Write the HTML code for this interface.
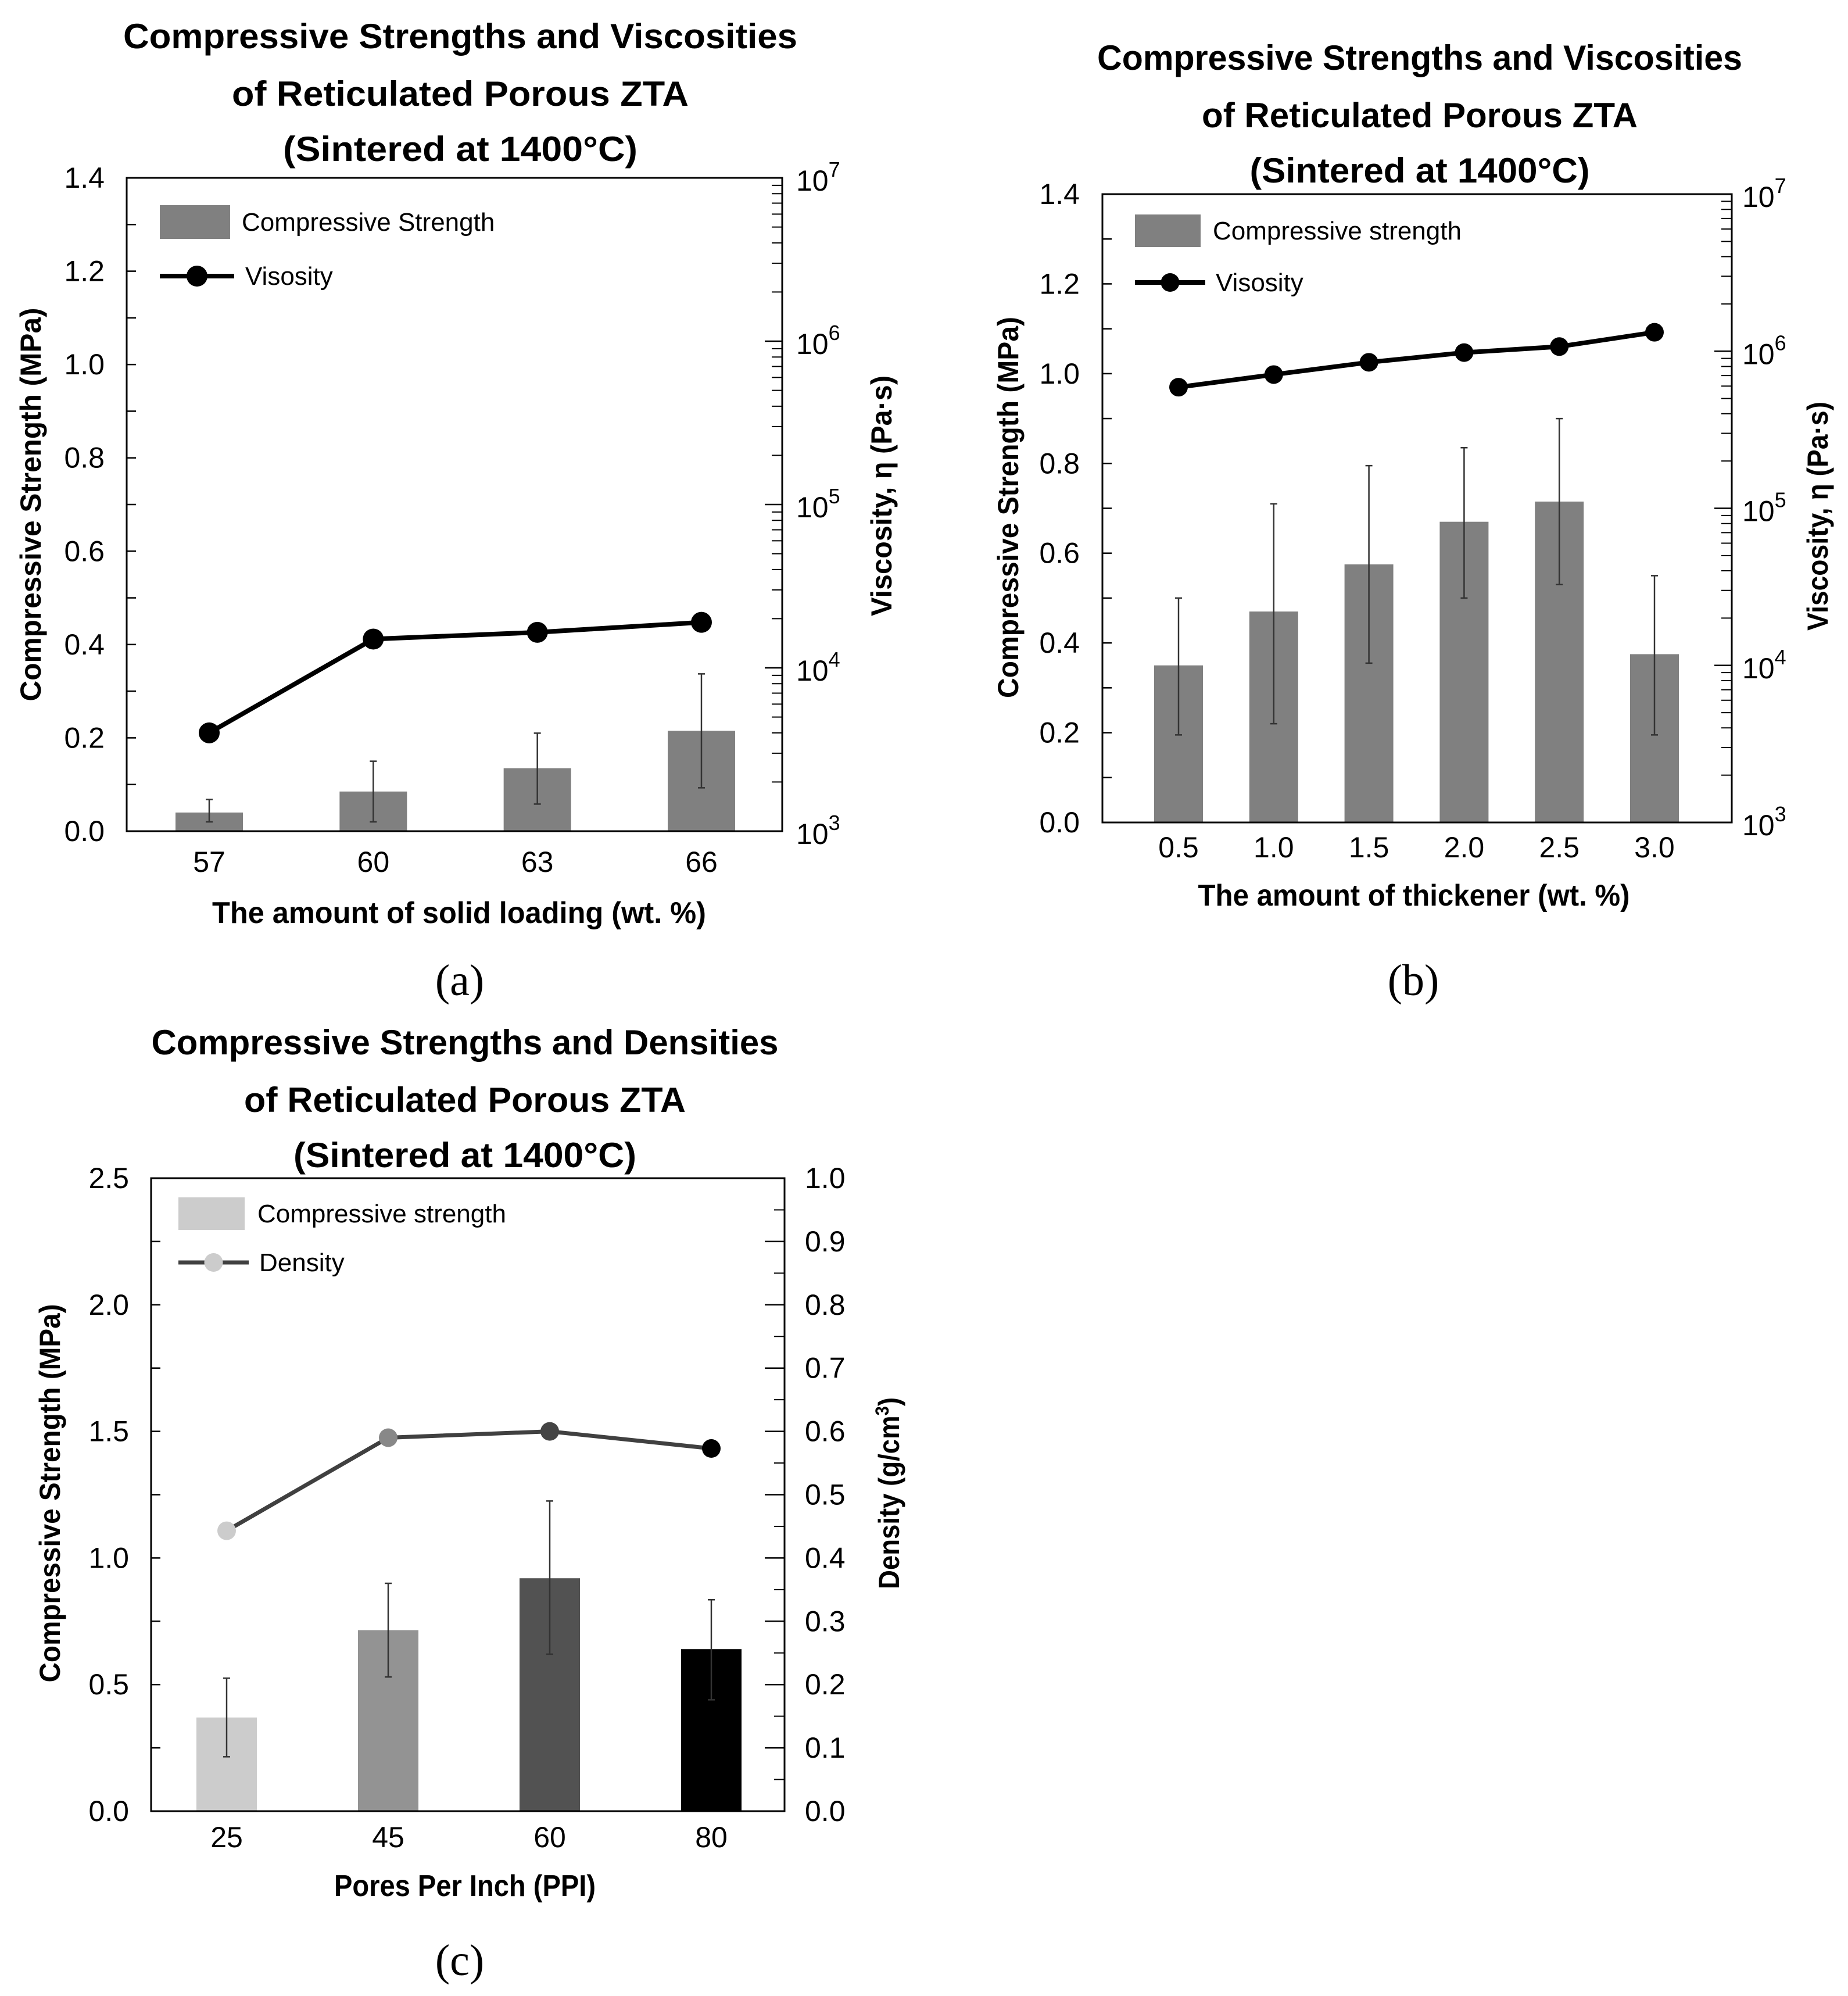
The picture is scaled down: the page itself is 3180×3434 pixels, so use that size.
<!DOCTYPE html>
<html><head><meta charset="utf-8"><style>
html,body{margin:0;padding:0;background:#fff}
svg{display:block}
text{font-family:"Liberation Sans",sans-serif}
text.serif{font-family:"Liberation Serif",serif}
</style></head><body>
<svg id="fig" width="3180" height="3434" viewBox="0 0 3180 3434" xmlns="http://www.w3.org/2000/svg">
<rect width="3180" height="3434" fill="#fff"/>
<g id="pa"></g>
<g id="pb"></g>
<g id="pc"></g>
</svg>
<script>
// Panel (a) data
const aCats = ["57","60","63","66"];
const aStrength = [0.04, 0.085, 0.135, 0.215];
const aErrLow = [0.02, 0.02, 0.058, 0.093];
const aErrHigh = [0.068, 0.15, 0.21, 0.337];
const aViscosity = [4000, 15000, 16500, 19000];
const aLeftTicks = ["0.0","0.2","0.4","0.6","0.8","1.0","1.2","1.4"];
// Panel (b) data
const bCats = ["0.5","1.0","1.5","2.0","2.5","3.0"];
const bStrength = [0.35, 0.47, 0.575, 0.67, 0.715, 0.375];
const bErrLow = [0.195, 0.22, 0.355, 0.5, 0.53, 0.195];
const bErrHigh = [0.5, 0.71, 0.795, 0.835, 0.9, 0.55];
const bViscosity = [590000, 710000, 850000, 980000, 1070000, 1320000];
const bLeftTicks = ["0.0","0.2","0.4","0.6","0.8","1.0","1.2","1.4"];
// Panel (c) data
const cCats = ["25","45","60","80"];
const cStrength = [0.37, 0.715, 0.92, 0.64];
const cErrLow = [0.215, 0.53, 0.62, 0.44];
const cErrHigh = [0.525, 0.9, 1.225, 0.835];
const cDensity = [0.443, 0.59, 0.6, 0.573];
const cLeftTicks = ["0.0","0.5","1.0","1.5","2.0","2.5"];
const cRightTicks = ["0.0","0.1","0.2","0.3","0.4","0.5","0.6","0.7","0.8","0.9","1.0"];
const logExps = [3,4,5,6,7];

const NS="http://www.w3.org/2000/svg";
function mk(parent,tag,attrs,txt){const e=document.createElementNS(NS,tag);for(const k in attrs)e.setAttribute(k,attrs[k]);if(txt!==undefined)e.textContent=txt;parent.appendChild(e);return e;}

function panel(g,cfg){
  const L=cfg.L,R=cfg.R,T=cfg.T,B=cfg.B;
  const yL=v=>B-(v-cfg.lmin)/(cfg.lmax-cfg.lmin)*(B-T);
  const yR=cfg.log?(v=>B-(Math.log10(v)-cfg.rmin)/(cfg.rmax-cfg.rmin)*(B-T)):(v=>B-(v-cfg.rmin)/(cfg.rmax-cfg.rmin)*(B-T));
  const n=cfg.cats.length;
  const xC=i=>cfg.x0+i*(cfg.x1-cfg.x0)/(n-1);
  cfg.titles.forEach((t,i)=>{
    const e=mk(g,'text',{x:cfg.tx,y:cfg.ty[i],'text-anchor':'middle','font-size':60,'font-weight':'bold',textLength:cfg.tw[i],lengthAdjust:'spacingAndGlyphs'},t);
    
    
  });
  cfg.vals.forEach((v,i)=>{
    const r=mk(g,'rect',{x:xC(i)-cfg.bw/2,y:yL(v),width:cfg.bw,height:B-yL(v),fill:cfg.colors[i]});
    
    
    const eb=mk(g,'path',{d:`M${xC(i)},${yL(cfg.lo[i])}V${yL(cfg.hi[i])}M${xC(i)-6},${yL(cfg.lo[i])}H${xC(i)+6}M${xC(i)-6},${yL(cfg.hi[i])}H${xC(i)+6}`,stroke:'#333','stroke-width':2.5,fill:'none'});
    
    
  });
  const pts=cfg.line.map((v,i)=>[xC(i),yR(v)]);
  const pl=mk(g,'polyline',{points:pts.map(p=>p.join(',')).join(' '),fill:'none',stroke:cfg.lineColor,'stroke-width':cfg.lw});
  
  
  pts.forEach((p,i)=>{
    const c=mk(g,'circle',{cx:p[0],cy:p[1],r:cfg.mr,fill:cfg.mcolors[i]});
    
    
  });
  const fr=mk(g,'rect',{x:L,y:T,width:R-L,height:B-T,fill:'none',stroke:'#000','stroke-width':3});
  
  
  cfg.lticks.forEach((t,i)=>{
    const v=parseFloat(t),y=yL(v);
    mk(g,'line',{x1:L,x2:L+16,y1:y,y2:y,stroke:'#000','stroke-width':2.5});
    if(i<cfg.lticks.length-1){const ym=yL(v+cfg.lstep/2);mk(g,'line',{x1:L,x2:L+16,y1:ym,y2:ym,stroke:'#000','stroke-width':2.5});}
    const e=mk(g,'text',{x:cfg.llx,y:y+17,'text-anchor':'end','font-size':50},t);
    
    
  });
  if(cfg.log){
    logExps.forEach((ex,i)=>{
      const y=yR(Math.pow(10,ex));
      mk(g,'line',{x1:R-30,x2:R,y1:y,y2:y,stroke:'#000','stroke-width':2.5});
      const e=mk(g,'text',{x:cfg.rlx,y:y+22,'font-size':50},'10');
      mk(e,'tspan',{dy:-24,'font-size':36},String(ex));
      
      
      if(i<logExps.length-1){for(let k=2;k<10;k++){const ym=yR(k*Math.pow(10,ex));mk(g,'line',{x1:R-18,x2:R,y1:ym,y2:ym,stroke:'#000','stroke-width':2});}}
    });
  } else {
    cfg.rticks.forEach((t,i)=>{
      const v=parseFloat(t),y=yR(v);
      mk(g,'line',{x1:R-34,x2:R,y1:y,y2:y,stroke:'#000','stroke-width':2.5});
      if(i<cfg.rticks.length-1){const ym=yR(v+0.05);mk(g,'line',{x1:R-18,x2:R,y1:ym,y2:ym,stroke:'#000','stroke-width':2});}
      const e=mk(g,'text',{x:cfg.rlx,y:y+17,'font-size':50},t);
      
      
    });
  }
  cfg.cats.forEach((c,i)=>{
    const e=mk(g,'text',{x:xC(i),y:cfg.xly,'text-anchor':'middle','font-size':50},c);
    
    
  });
  let e=mk(g,'text',{x:cfg.xtx,y:cfg.xty,'text-anchor':'middle','font-size':52,'font-weight':'bold',textLength:cfg.xtw,lengthAdjust:'spacingAndGlyphs'},cfg.xtitle);
  
  
  e=mk(g,'text',{x:0,y:0,'text-anchor':'middle','font-size':50,'font-weight':'bold',textLength:cfg.ltw,lengthAdjust:'spacingAndGlyphs',transform:`translate(${cfg.ltx},${cfg.lty}) rotate(-90)`},cfg.ltitle);
  
  
  e=mk(g,'text',{x:0,y:0,'text-anchor':'middle','font-size':50,'font-weight':'bold',textLength:cfg.rtw,lengthAdjust:'spacingAndGlyphs',transform:`translate(${cfg.rtx},${cfg.rty}) rotate(-90)`},cfg.rtitle);
  if(cfg.rsup){mk(e,'tspan',{dy:-18,'font-size':32},'3');mk(e,'tspan',{dy:18},')');}
  
  
  const lg=mk(g,'g',{});
  
  
  mk(lg,'rect',{x:cfg.lg.x,y:cfg.lg.y,width:cfg.lg.w,height:cfg.lg.h,fill:cfg.lg.fill});
  mk(lg,'text',{x:cfg.lg.tx,y:cfg.lg.y+cfg.lg.h/2+15,'font-size':44},cfg.lg.t1);
  mk(lg,'line',{x1:cfg.lg.x,x2:cfg.lg.x+cfg.lg.lw,y1:cfg.lg.ly,y2:cfg.lg.ly,stroke:cfg.lineColor,'stroke-width':cfg.lw});
  mk(lg,'circle',{cx:cfg.lg.x+cfg.lg.lw/2,cy:cfg.lg.ly,r:cfg.mr,fill:cfg.lg.mfill});
  mk(lg,'text',{x:cfg.lg.tx2,y:cfg.lg.ly+15,'font-size':44},cfg.lg.t2);
  e=mk(g,'text',{x:cfg.px,y:cfg.py,'text-anchor':'middle','font-size':76,'class':'serif',style:'font-family:"Liberation Serif",serif'},cfg.plabel);
  
  
}

panel(document.getElementById('pa'),{L:218,R:1346,T:306,B:1430,lmin:0,lmax:1.4,lstep:0.2,log:true,rmin:3,rmax:7,
  cats:aCats,vals:aStrength,lo:aErrLow,hi:aErrHigh,line:aViscosity,x0:360,x1:1207,bw:116,
  colors:['#808080','#808080','#808080','#808080'],mcolors:['#000','#000','#000','#000'],lineColor:'#000',lw:8,mr:18,
  titles:["Compressive Strengths and Viscosities","of Reticulated Porous ZTA","(Sintered at 1400°C)"],tx:792,ty:[83,182,277],tw:[1160,786,610],
  lticks:aLeftTicks,llx:180,rlx:1370,xly:1500,xtitle:"The amount of solid loading (wt. %)",xtx:790,xty:1588,xtw:850,
  ltitle:"Compressive Strength (MPa)",ltx:70,lty:868,ltw:677,rtitle:"Viscosity, η (Pa·s)",rtx:1534,rty:853,rtw:414,
  lg:{x:275,y:353,w:121,h:58,fill:'#808080',tx:416,t1:"Compressive Strength",ly:475,lw:128,mfill:'#000',tx2:422,t2:"Visosity"},
  px:791,py:1712,plabel:"(a)"});

panel(document.getElementById('pb'),{L:1897,R:2980,T:334,B:1415,lmin:0,lmax:1.4,lstep:0.2,log:true,rmin:3,rmax:7,
  cats:bCats,vals:bStrength,lo:bErrLow,hi:bErrHigh,line:bViscosity,x0:2028,x1:2847,bw:84,
  colors:Array(6).fill('#808080'),mcolors:Array(6).fill('#000'),lineColor:'#000',lw:8,mr:16,
  titles:["Compressive Strengths and Viscosities","of Reticulated Porous ZTA","(Sintered at 1400°C)"],tx:2443,ty:[120,219,314],tw:[1110,750,585],
  lticks:bLeftTicks,llx:1858,rlx:2998,xly:1475,xtitle:"The amount of thickener (wt. %)",xtx:2433,xty:1558,xtw:743,
  ltitle:"Compressive Strength (MPa)",ltx:1752,lty:873,ltw:656,rtitle:"Viscosity, η (Pa·s)",rtx:3145,rty:888,rtw:394,
  lg:{x:1953,y:369,w:113,h:56,fill:'#808080',tx:2087,t1:"Compressive strength",ly:486,lw:121,mfill:'#000',tx2:2092,t2:"Visosity"},
  px:2432,py:1712,plabel:"(b)"});

panel(document.getElementById('pc'),{L:260,R:1350,T:2027,B:3116,lmin:0,lmax:2.5,lstep:0.5,log:false,rmin:0,rmax:1.0,
  cats:cCats,vals:cStrength,lo:cErrLow,hi:cErrHigh,line:cDensity,x0:390,x1:1224,bw:104,
  colors:['#cccccc','#939393','#525252','#000000'],mcolors:['#cccccc','#888888','#444444','#000000'],lineColor:'#404040',lw:7,mr:16,
  titles:["Compressive Strengths and Densities","of Reticulated Porous ZTA","(Sintered at 1400°C)"],tx:800,ty:[1814,1913,2008],tw:[1079,760,590],
  lticks:cLeftTicks,llx:222,rlx:1385,rticks:cRightTicks,xly:3178,xtitle:"Pores Per Inch (PPI)",xtx:800,xty:3262,xtw:450,
  ltitle:"Compressive Strength (MPa)",ltx:103,lty:2569,ltw:651,rtitle:"Density (g/cm",rsup:true,rtx:1547,rty:2569,rtw:330,
  lg:{x:307,y:2060,w:114,h:56,fill:'#cccccc',tx:443,t1:"Compressive strength",ly:2172,lw:121,mfill:'#cccccc',tx2:446,t2:"Density"},
  px:791,py:3398,plabel:"(c)"});
</script>
</body></html>
